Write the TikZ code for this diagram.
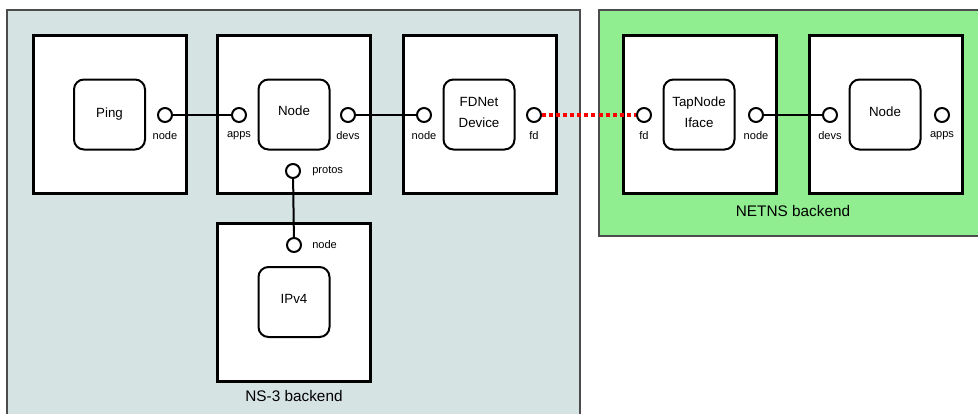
\documentclass[tikz,border=0pt]{standalone}
\usepackage{fontspec}
\setmainfont{Liberation Sans}
\definecolor{nsgrey}{RGB}{214,227,227}
\definecolor{netgreen}{RGB}{144,238,144}
\begin{document}
\begin{tikzpicture}[x=0.75pt,y=-0.75pt,
 region/.style={draw=black!70, line width=0.9pt},
 outerbox/.style={draw=black, fill=white, line width=2.25pt, minimum width=114.75pt, minimum height=118.5pt, inner sep=0},
 innerbox/.style={draw=black, fill=white, line width=1.5pt, rounded corners=7.5pt, minimum width=53.25pt, minimum height=52.5pt, inner sep=0},
 boxtext/.style={align=center, font=\fontsize{10}{15.75}\selectfont, inner sep=0, anchor=base},
 port/.style={circle, draw=black, fill=white, line width=1.5pt, minimum size=10.5pt, inner sep=0},
 plabel/.style={font=\fontsize{8.3}{10}\selectfont, inner sep=0},
 rlabel/.style={font=\fontsize{11.5}{14}\selectfont, inner sep=0},
 wire/.style={line width=1.5pt},
 tapwire/.style={red, line width=2.6pt, dash pattern=on 3pt off 2.3pt}]
\clip (0,0) rectangle (978,414);
\useasboundingbox (0,0) rectangle (978,414);
% regions
\draw[region, fill=nsgrey] (7,10) rectangle (580,430);
\draw[region, fill=netgreen] (599,10) rectangle (990,236);
\node[rlabel] (nslbl) at (294,396) {NS-3 backend};
\node[rlabel] (netlbl) at (793,211) {NETNS backend};
% outer boxes
\node[outerbox] (pingbox) at (109.5,114) {};
\node[outerbox] (nodebox) at (294,114) {};
\node[outerbox] (fdbox) at (479.5,114) {};
\node[outerbox] (tapbox) at (699.5,114) {};
\node[outerbox] (node2box) at (885.5,114) {};
\node[outerbox] (ipbox) at (294,302) {};
% inner boxes
\node[innerbox] (ping) at (109.5,114.5) {};
\node[innerbox] (node) at (294,114.5) {};
\node[innerbox] (fdnet) at (479,114.5) {};
\node[innerbox] (tap) at (699,114.5) {};
\node[innerbox] (node2) at (885,114.5) {};
\node[innerbox] (ipv4) at (294,302) {};
% inner box texts
\node[boxtext] (pingtxt) at (109.5,117) {Ping};
\node[boxtext] (nodetxt) at (294,115.5) {Node};
\node[boxtext] (fdnettxt) at (479,127) {FDNet\\Device};
\node[boxtext] (taptxt) at (699,127) {TapNode\\Iface};
\node[boxtext] (node2txt) at (885,116.5) {Node};
\node[boxtext] (ipv4txt) at (294,303) {IPv4};
% ports
\node[port] (pingnode) at (165,115) {};
\node[port] (nodeapps) at (239,115) {};
\node[port] (nodedevs) at (348,115) {};
\node[port] (nodeprotos) at (293,171) {};
\node[port] (fdnode) at (424,115) {};
\node[port] (fdfd) at (534,115) {};
\node[port] (tapfd) at (644,115) {};
\node[port] (tapnode) at (756,115) {};
\node[port] (n2devs) at (830,115) {};
\node[port] (n2apps) at (942,115) {};
\node[port] (ipnode) at (294,245) {};
% port labels
\node[plabel] (l1) at (165,136) {node};
\node[plabel] (l2) at (239,136) {apps};
\node[plabel] (l3) at (348,136) {devs};
\node[plabel, anchor=west] (l4) at (312,171) {protos};
\node[plabel] (l5) at (424,136) {node};
\node[plabel] (l6) at (534,136) {fd};
\node[plabel] (l7) at (644,136) {fd};
\node[plabel] (l8) at (756,136) {node};
\node[plabel] (l9) at (830,136) {devs};
\node[plabel] (l10) at (942,136) {apps};
\node[plabel, anchor=west] (l11) at (312,245) {node};
% connectors
\draw[wire] (pingnode) -- (nodeapps);
\draw[wire] (nodedevs) -- (fdnode);
\draw[wire] (nodeprotos) -- (ipnode);
\draw[wire] (tapnode) -- (n2devs);
\draw[tapwire] (fdfd.east) -- (tapfd.west);
\end{tikzpicture}
\end{document}
